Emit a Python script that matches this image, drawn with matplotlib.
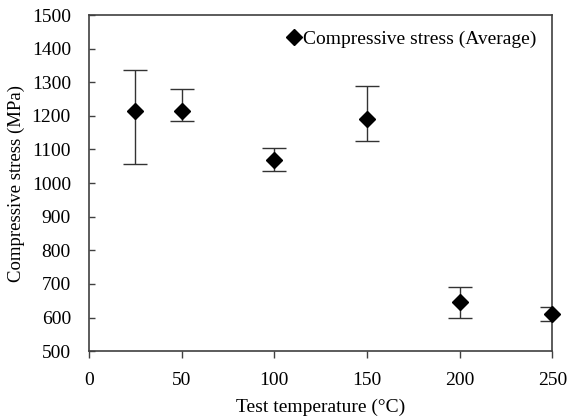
import matplotlib.pyplot as plt

# data
temp = [25, 50, 100, 150, 200, 250]
stress_avg = [1215, 1215, 1070, 1190, 646, 610]
err_upper = [1337, 1279, 1105, 1289, 691, 631]
err_lower = [1058, 1185, 1035, 1126, 599, 590]

yerr = [[a - lo for a, lo in zip(stress_avg, err_lower)],
        [hi - a for a, hi in zip(stress_avg, err_upper)]]

plt.rcParams['font.family'] = ['Liberation Serif', 'DejaVu Serif']

fig = plt.figure(figsize=(5.67, 4.17), dpi=100)
ax = fig.add_axes([0.157, 0.158, 0.817, 0.806])

ax.errorbar(temp, stress_avg, yerr=yerr, fmt='none', ecolor='#333333',
            elinewidth=1, capsize=8.5, capthick=1)
ax.plot(temp, stress_avg, 'D', color='black', markersize=7.8, linestyle='none',
        label='Compressive stress (Average)', clip_on=False, zorder=3)

ax.set_xlim(0, 250)
ax.set_ylim(500, 1500)
ax.set_xticks(range(0, 251, 50))
ax.set_yticks(range(500, 1501, 100))
ax.tick_params(axis='x', direction='out', labelsize=14, length=5, width=1,
               color='#404040', pad=10)
ax.tick_params(axis='y', direction='in', labelsize=14, length=4, width=1,
               color='#404040', pad=13)
ax.set_xlabel('Test temperature (°C)', fontsize=14, labelpad=7)
ax.set_ylabel('Compressive stress (MPa)', fontsize=13.5, labelpad=5)
for s in ax.spines.values():
    s.set_linewidth(1.2)
    s.set_color('#404040')

ax.legend(loc='upper right', frameon=False, fontsize=14, handletextpad=0.0,
          handlelength=1.0, borderaxespad=0.4)

fig.savefig('out.png', dpi=100)
